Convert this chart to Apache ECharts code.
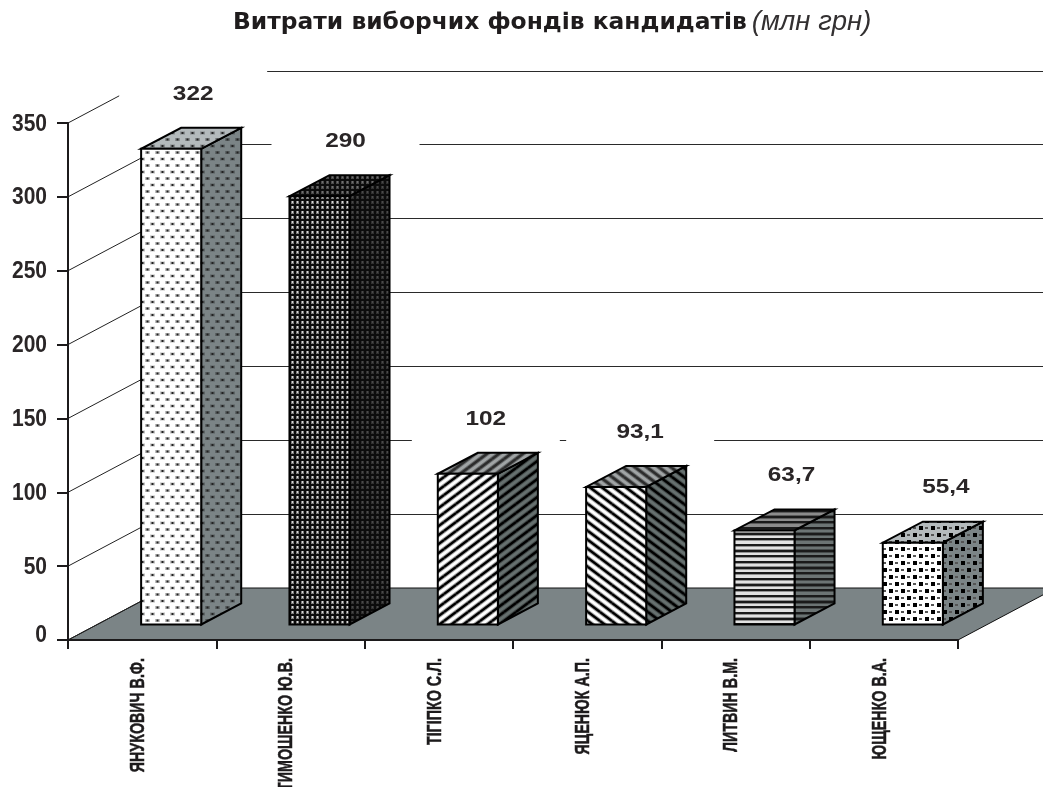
<!DOCTYPE html>
<html>
<head>
<meta charset="utf-8">
<title>Витрати виборчих фондів кандидатів</title>
<script src="https://cdn.jsdelivr.net/npm/echarts@6/dist/echarts.min.js"></script>
<style>
html, body { margin: 0; padding: 0; background: #fff; }
#main { width: 1043px; height: 787px; }
</style>
</head>
<body>
<div id="main"></div>
<script>
var categories = ["ЯНУКОВИЧ В.Ф.", "ТИМОШЕНКО Ю.В.", "ТІГІПКО С.Л.", "ЯЦЕНЮК А.П.", "ЛИТВИН В.М.", "ЮЩЕНКО В.А."];
var values = [322, 290, 102, 93.1, 63.7, 55.4];
var yTicks = [0, 50, 100, 150, 200, 250, 300, 350];

var INK = "#1c1a1b";
var FLOOR = "#7b8486";
var FRONT = "#ffffff";
var TOP = "#b4babc";
// 3d look: the whole floor depth, and where the box sits inside it
var DEPTH_X = 98, DEPTH_Y = 52;
var BOX_X = 40, BOX_Y = 21;
var GAP_X = 29, GAP_Y = 15.5;
// hand placed label shift for every bar
var labelShift = [22, 26, 18, 24, 27, 33];

var tile = function(w, h, draw){
	var c = document.createElement("canvas");
	c.width = w;
	c.height = h;
	draw(c.getContext("2d"), w, h);
	return {image: c, repeat: "repeat"};
};

var slant = function(up){
	return function(bg){
		var paper = bg == FRONT ? bg : (bg == TOP ? "#a0a4a5" : "#66706f");
		var ink = bg == TOP ? "#2c2c2c" : "#000";
		return tile(12, 9, function(g, w, h){
			g.fillStyle = paper;
			g.fillRect(0, 0, w, h);
			[["rgba(0,0,0,0.35)", 4.4], [ink, 2.4]].forEach(function(pen){
				g.strokeStyle = pen[0];
				g.lineWidth = pen[1];
				for(var i = -1; i <= 1; i++){
					for(var j = -1; j <= 1; j++){
						g.beginPath();
						g.moveTo(i * w, (up ? h : 0) + j * h);
						g.lineTo(i * w + w, (up ? 0 : h) + j * h);
						g.stroke();
					}
				}
			});
		});
	};
};

var patterns = [
	// small dots
	function(bg){
		return tile(10, 13, function(g, w, h){
			g.fillStyle = bg;
			g.fillRect(0, 0, w, h);
			[[2.5, 3], [7.5, 9.5]].forEach(function(p){
				g.fillStyle = "rgba(0,0,0,0.25)";
				g.fillRect(p[0] - 2.5, p[1] - 1.5, 5, 3);
				g.fillStyle = "#222";
				g.fillRect(p[0] - 1, p[1] - 1, 2, 2);
			});
		});
	},
	// dark mesh
	function(bg){
		return tile(5, 5, function(g, w, h){
			g.fillStyle = "#0c0c0c";
			g.fillRect(0, 0, w, h);
			g.fillStyle = bg == FRONT ? "#7c7c7c" : (bg == TOP ? "#4a4a4a" : "#303030");
			g.fillRect(1, 1, 3, 3);
			g.fillStyle = bg == FRONT ? "#d8d8d8" : (bg == TOP ? "#707070" : "#4a4a4a");
			g.fillRect(2, 1, 1, 2);
		});
	},
	slant(true),
	slant(false),
	// horizontal bands
	function(bg){
		var paper = bg == FRONT ? "#e2e2e2" : (bg == TOP ? "#8c8c8c" : "#6c7474");
		return tile(4, 17, function(g, w, h){
			g.fillStyle = paper;
			g.fillRect(0, 0, w, h);
			g.fillStyle = "rgba(0,0,0,0.35)";
			g.fillRect(0, 2, w, 1);
			g.fillRect(0, 5, w, 1);
			g.fillRect(0, 8, w, 1);
			g.fillRect(0, 13, w, 1);
			g.fillStyle = "#1a1a1a";
			g.fillRect(0, 0, w, 2);
			g.fillRect(0, 6, w, 2);
			g.fillRect(0, 11, w, 2);
		});
	},
	// big blocks
	function(bg){
		return tile(12, 14, function(g, w, h){
			g.fillStyle = bg;
			g.fillRect(0, 0, w, h);
			g.fillStyle = "#000";
			g.fillRect(1, 1, 4, 4);
			g.fillRect(7, 8, 4, 4);
			g.fillStyle = "#555";
			g.fillRect(7, 2, 3, 2);
			g.fillRect(1, 9, 3, 2);
		});
	}
];

var renderWall = function(params, api){
	var sys = params.coordSys;
	var v = api.value(0);
	var y = api.coord([0, v])[1];
	var backY = Math.floor(y - DEPTH_Y) + 0.5;
	var items = [{
		type: "line",
		shape: {x1: sys.x, y1: y, x2: sys.x + DEPTH_X, y2: y - DEPTH_Y},
		style: {stroke: "#222", lineWidth: 1, fill: null}
	}];
	if(v > 0){
		items.push({
			type: "line",
			shape: {x1: sys.x + DEPTH_X, y1: backY, x2: sys.x + sys.width + DEPTH_X, y2: backY},
			style: {stroke: "#2a2a2a", lineWidth: 1, fill: null}
		});
	} else {
		items.unshift({
			type: "polygon",
			shape: {points: [
				[sys.x, y],
				[sys.x + sys.width, y],
				[sys.x + sys.width + DEPTH_X, y - DEPTH_Y],
				[sys.x + DEPTH_X, y - DEPTH_Y]
			]},
			style: {fill: FLOOR, stroke: "#111", lineWidth: 1}
		});
	}
	// tick label, squeezed like the condensed face of the original
	items.push({
		type: "text",
		x: sys.x - 21,
		y: v == 0 ? y - 5 : y + 1,
		scaleX: 0.875,
		style: {
			text: String(v),
			align: "right",
			verticalAlign: "middle",
			fill: "#2a2627",
			font: "bold 24px 'Liberation Sans', Arial, sans-serif"
		}
	});
	return {type: "group", children: items};
};

var renderBar = function(params, api){
	var i = api.value(0);
	var base = api.coord([i, 0]);
	var top = api.coord([i, api.value(1)]);
	var w = api.size([1, 0])[0] * 0.405;
	var x0 = base[0] + GAP_X - w / 2;
	var x1 = x0 + w;
	var y0 = base[1] - GAP_Y;
	var y1 = top[1] - GAP_Y;
	var make = patterns[i];
	var edge = function(fill){
		return {fill: fill, stroke: "#000", lineWidth: 2, lineJoin: "miter"};
	};
	return {
		type: "group",
		children: [{
			type: "polygon",
			shape: {points: [[x1, y0], [x1 + BOX_X, y0 - BOX_Y], [x1 + BOX_X, y1 - BOX_Y], [x1, y1]]},
			style: edge(make(FLOOR))
		}, {
			type: "polygon",
			shape: {points: [[x0, y1], [x1, y1], [x1 + BOX_X, y1 - BOX_Y], [x0 + BOX_X, y1 - BOX_Y]]},
			style: edge(make(TOP))
		}, {
			type: "polygon",
			shape: {points: [[x0, y0], [x1, y0], [x1, y1], [x0, y1]]},
			style: edge(make(FRONT))
		}]
	};
};

var renderValue = function(params, api){
	var i = api.value(0);
	var p = api.coord([i, api.value(1)]);
	var cx = p[0] + GAP_X + labelShift[i];
	var cy = p[1] - GAP_Y - 55;
	return {
		type: "group",
		children: [{
			type: "rect",
			shape: {x: cx - 74, y: cy - 24, width: 148, height: 48},
			style: {fill: "#fff"}
		}, {
			type: "text",
			x: cx,
			y: cy,
			scaleX: 1.16,
			style: {
				text: String(api.value(1)).replace(".", ","),
				align: "center",
				verticalAlign: "middle",
				fill: "#2a2627",
				font: "bold 21px 'Liberation Sans', Arial, sans-serif"
			}
		}]
	};
};

var renderName = function(params, api){
	var i = api.value(0);
	var p = api.coord([i, 0]);
	return {
		type: "text",
		x: p[0] - 4,
		y: 658,
		rotation: Math.PI / 2,
		scaleX: 0.68,
		style: {
			text: categories[i],
			align: "right",
			verticalAlign: "middle",
			fill: "#1c1a1b",
			stroke: "#1c1a1b",
			lineWidth: 0.5,
			font: "bold 21px 'Liberation Sans', Arial, sans-serif"
		}
	};
};

var barData = values.map(function(v, i){ return [i, v]; });

var chart = echarts.init(document.getElementById("main"));
chart.setOption({
	animation: false,
	backgroundColor: "#fff",
	title: {
		left: 233,
		top: 9,
		padding: 0,
		text: "{b|Витрати виборчих фондів кандидатів} {i|(млн грн)}",
		textStyle: {
			rich: {
				b: {fontFamily: "DejaVu Sans", fontWeight: "bold", fontSize: 23.4, color: "#1f1c1d"},
				i: {fontFamily: "Liberation Sans", fontWeight: "normal", fontStyle: "italic", fontSize: 27.5, color: "#333031"}
			}
		}
	},
	grid: {left: 68, top: 123, width: 890, height: 517, containLabel: false},
	xAxis: {
		type: "category",
		data: categories,
		z: 10,
		axisLine: {show: true, lineStyle: {color: INK, width: 2}},
		axisTick: {show: true, alignWithLabel: false, length: 9, lineStyle: {color: INK, width: 2}},
		axisLabel: {show: false}
	},
	yAxis: {
		type: "value",
		min: 0,
		max: 350,
		interval: 50,
		z: 10,
		axisLine: {show: true, lineStyle: {color: INK, width: 2}},
		axisTick: {show: true, length: 11, lineStyle: {color: INK, width: 2}},
		splitLine: {show: false},
		axisLabel: {show: false}
	},
	series: [
		{type: "custom", coordinateSystem: "cartesian2d", data: yTicks.map(function(v){ return [v]; }), encode: {y: 0}, renderItem: renderWall, z: 2, silent: true},
		{type: "custom", coordinateSystem: "cartesian2d", data: barData, encode: {x: 0, y: 1}, renderItem: renderValue, z: 3, silent: true},
		{type: "custom", coordinateSystem: "cartesian2d", data: barData, encode: {x: 0, y: 1}, renderItem: renderBar, z: 4, silent: true},
		{type: "custom", coordinateSystem: "cartesian2d", data: barData, encode: {x: 0, y: 1}, renderItem: renderName, z: 5, silent: true}
	]
});
</script>
</body>
</html>
